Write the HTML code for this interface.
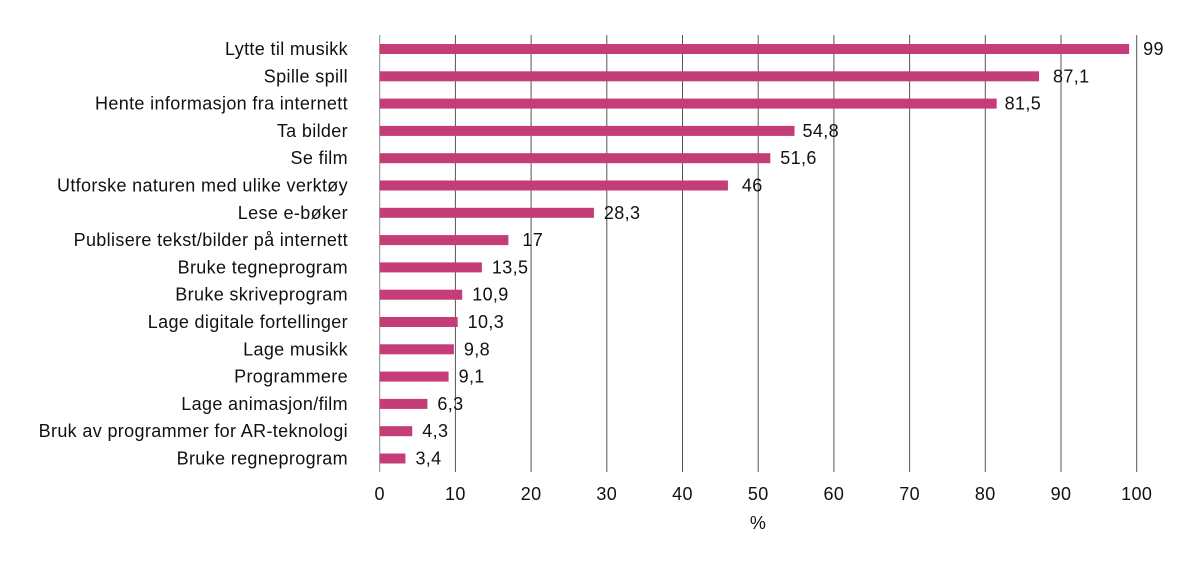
<!DOCTYPE html>
<html><head><meta charset="utf-8"><style>
body{margin:0;background:#fff;}
svg text{font-family:"Liberation Sans",sans-serif;font-size:18px;letter-spacing:0.35px;fill:#111;}
</style></head><body>
<svg width="1200" height="569" xmlns="http://www.w3.org/2000/svg">
<g id="g"></g>
</svg>
<script>
const data=[["Lytte til musikk",99,"99",14],["Spille spill",87.1,"87,1",14],["Hente informasjon fra internett",81.5,"81,5",8],["Ta bilder",54.8,"54,8",8],["Se film",51.6,"51,6",10],["Utforske naturen med ulike verktøy",46,"46",14],["Lese e-bøker",28.3,"28,3",10],["Publisere tekst/bilder på internett",17,"17",14],["Bruke tegneprogram",13.5,"13,5",10],["Bruke skriveprogram",10.9,"10,9",10],["Lage digitale fortellinger",10.3,"10,3",10],["Lage musikk",9.8,"9,8",10],["Programmere",9.1,"9,1",10],["Lage animasjon/film",6.3,"6,3",10],["Bruk av programmer for AR-teknologi",4.3,"4,3",10],["Bruke regneprogram",3.4,"3,4",10]];
const x0=379.7,k=7.57;let s="";
for(let i=0;i<=10;i++){const x=x0+i*10*k;s+=`<line x1="${x}" x2="${x}" y1="35" y2="472" stroke="${i==0?'#888':'#555'}" stroke-width="1"/>`;s+=`<text x="${x}" y="500" text-anchor="middle">${i*10}</text>`;}
data.forEach((d,i)=>{const c=49+i*27.3;const w=d[1]*k;s+=`<rect x="${x0}" y="${c-5}" width="${w}" height="10" fill="#c43c78"/>`;s+=`<text x="348" y="${c+6}" text-anchor="end">${d[0]}</text>`;s+=`<text x="${x0+w+d[3]}" y="${c+6}">${d[2]}</text>`;});
s+=`<text x="758" y="529" text-anchor="middle">%</text>`;
document.getElementById("g").innerHTML=s;
</script>
</body></html>
